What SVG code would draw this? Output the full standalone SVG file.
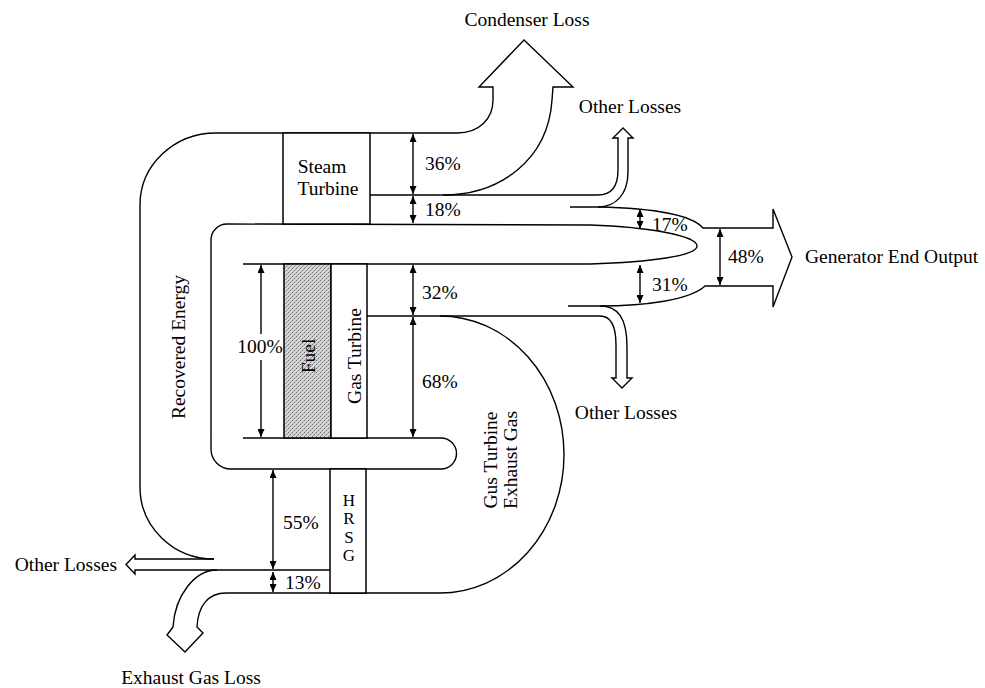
<svg xmlns="http://www.w3.org/2000/svg" width="985" height="688" viewBox="0 0 985 688">
<style>
.ln{fill:none;stroke:#000;stroke-width:1.4;stroke-linejoin:miter}
.box{fill:#fff;stroke:#000;stroke-width:1.5}
.dim{fill:none;stroke:#000;stroke-width:1.4;marker-start:url(#ah);marker-end:url(#ah)}
.dim1{fill:none;stroke:#000;stroke-width:1.4;marker-end:url(#ah)}
text{font-family:"Liberation Serif","Times New Roman",serif;font-size:19.5px;fill:#000}
.m{text-anchor:middle}
.e{text-anchor:end}
.hr{font-size:17px}
</style>
<defs>
<marker id="ah" viewBox="0 0 8 7" refX="8" refY="3.5" markerWidth="8" markerHeight="7" markerUnits="userSpaceOnUse" orient="auto-start-reverse">
<path d="M0,0 L8,3.5 L0,7 z" fill="#000"/>
</marker>
<pattern id="stip" width="4" height="4" patternUnits="userSpaceOnUse">
<rect width="4" height="4" fill="#d6d6d6"/>
<rect x="0" y="0" width="1" height="1" fill="#6a6a6a"/>
<rect x="2" y="2" width="1" height="1" fill="#7a7a7a"/>
<rect x="3" y="1" width="1" height="1" fill="#a0a0a0"/>
<rect x="1" y="3" width="1" height="1" fill="#a0a0a0"/>
</pattern>
</defs>
<rect width="985" height="688" fill="#fff"/>

<g id="connectors">
<path class="ln" d="M214,559 A74 72 0 0 1 140,487 L140,205 A76 72 0 0 1 216,133 L457,133 C480,133 493,118 493,100 L493,87 L479,87 L524,40 L573,87 L553,87 L552,100 C548,160 500,195 443,195"/>
<path class="ln" d="M370,195 L598,195 C612,195 618,185 618,170 L618,138 L613,138 L623,128 L633,138 L628,138 L628,172 C628,195 615,207 598,207 L570,207"/>
<path class="ln" d="M598,207 C645,208 690,213 703,228 L773,228 L773,209 L792,257 L773,307 L773,286 L705,286 C690,300 645,306 600,306 L568,306"/>
<path class="ln" d="M600,306 C618,306 627,318 627,347 L627,378 L632,378 L622,388 L612,378 L616,378 L616,345 C616,325 610,316 600,316 L367,316"/>
<path class="ln" d="M243,264 L590,264 C650,262 697,256 697,246 C697,236 650,227 590,225 L227,224 A16 16 0 0 0 211,240 L211,449 A20 20 0 0 0 231,469 L441,469 A15.5 15.5 0 0 0 441,438 L243,438"/>
<path class="ln" d="M440,316 A124 138.5 0 0 1 440,593 L226,593 C208,593 198,606 197,627 L203,633 L185,652 L167,635 L173,627 C175,595 195,570 217,570"/>
<path class="ln" d="M214,559 L135,559 L135,555 L126,564.5 L135,574 L135,570 L330,570"/>
</g>

<g id="steam-turbine">
<rect class="box" x="283" y="133" width="87" height="91"/>
<text class="m" x="322" y="173">Steam</text>
<text class="m" x="328" y="195">Turbine</text>
</g>

<g id="fuel">
<rect x="284" y="264" width="47" height="174" fill="url(#stip)" stroke="#000" stroke-width="1.5"/>
<text class="m" transform="translate(315,356) rotate(-90)">Fuel</text>
</g>

<g id="gas-turbine">
<rect class="box" x="331" y="264" width="36" height="174"/>
<text class="m" transform="translate(361,356) rotate(-90)">Gas Turbine</text>
</g>

<g id="hrsg">
<rect class="box" x="330" y="469" width="36" height="124"/>
<text class="m hr" x="349" y="506">H</text>
<text class="m hr" x="349" y="524">R</text>
<text class="m hr" x="349" y="543">S</text>
<text class="m hr" x="349" y="561">G</text>
</g>

<g id="dimensions">
<line class="dim" x1="413" y1="134" x2="413" y2="194"/>
<line class="dim" x1="413" y1="196" x2="413" y2="223"/>
<line class="dim" x1="413" y1="265" x2="413" y2="315"/>
<line class="dim" x1="413" y1="317" x2="413" y2="437"/>
<line class="dim1" x1="261" y1="334" x2="261" y2="265"/>
<line class="dim1" x1="261" y1="360" x2="261" y2="437"/>
<line class="dim" x1="640" y1="209" x2="640" y2="229"/>
<line class="dim" x1="640" y1="265" x2="640" y2="303"/>
<line class="dim" x1="720" y1="229" x2="720" y2="285"/>
<line class="dim" x1="273" y1="470" x2="273" y2="569"/>
<line class="dim" x1="273" y1="572" x2="273" y2="592"/>
</g>

<g id="labels">
<text class="m" x="527" y="26">Condenser Loss</text>
<text class="m" x="630" y="113">Other Losses</text>
<text class="m" x="626" y="419">Other Losses</text>
<text class="e" x="117" y="571">Other Losses</text>
<text class="m" x="191" y="684">Exhaust Gas Loss</text>
<text x="805" y="263">Generator End Output</text>
<text x="425" y="170">36%</text>
<text x="425" y="216">18%</text>
<text x="422" y="299">32%</text>
<text x="422" y="388">68%</text>
<text class="m" x="260" y="353">100%</text>
<text x="652" y="231">17%</text>
<text x="652" y="291">31%</text>
<text x="728" y="263">48%</text>
<text x="283" y="529">55%</text>
<text x="285" y="589">13%</text>
<text class="m" transform="translate(185,347) rotate(-90)">Recovered Energy</text>
<text class="m" transform="translate(497,460) rotate(-90)">Gus Turbine</text>
<text class="m" transform="translate(517,460) rotate(-90)">Exhaust Gas</text>
</g>
</svg>
